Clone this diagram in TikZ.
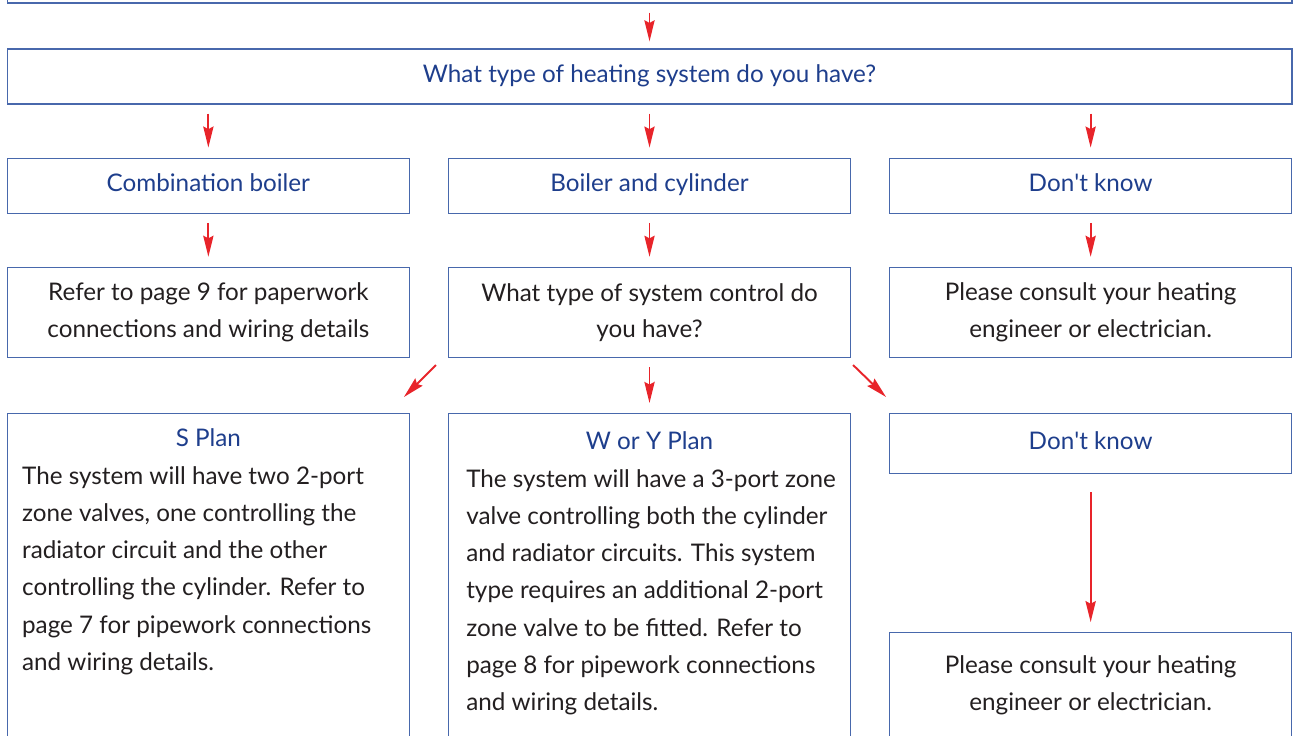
\documentclass[tikz,border=0pt]{standalone}
\usepackage{fontspec}
\setmainfont{Lato}
\usetikzlibrary{arrows.meta,positioning}
\definecolor{boxblue}{RGB}{72,104,172}
\definecolor{headblue}{RGB}{30,62,140}
\definecolor{arrowred}{RGB}{232,36,42}
\definecolor{bodygrey}{RGB}{35,31,32}

\begin{document}
\begin{tikzpicture}[x=0.02cm, y=-0.02cm, node distance=1.06cm and 0.76cm,
		main box/.style={rectangle, draw=boxblue, line width=0.7pt, minimum width=8.04cm,
			minimum height=1.1cm, inner sep=0pt, font=\fontsize{13.8}{20.7}\selectfont},
		wide box/.style={main box, minimum width=25.7cm},
		head/.style={text=headblue, text height=0.82em, text depth=0.14em},
		body/.style={text=bodygrey, align=center},
		plain text/.style={text=bodygrey, align=left, inner sep=0pt, font=\fontsize{13.8}{21.2}\selectfont},
		arr/.style={draw=arrowred, line width=1.1pt, -{Stealth[length=12pt,width=5.8pt,inset=1.5pt]}}]

		\useasboundingbox (0,0) rectangle (1293,735);
		\clip (0,0) rectangle (1293,735);

		% question rows
		\node[wide box, minimum height=2cm] (start) at (649.5,-47) {};
		\node[wide box, head] (type) at (649.5,76.5) {What type of heating system do you have?};

		\node[main box, head] (cyl) [below=of type] {Boiler and cylinder};
		\node[main box, head] (combi) [left=of cyl] {Combination boiler};
		\node[main box, head] (unsure) [right=of cyl] {Don\textquotesingle t know};

		\node[main box, body, minimum height=1.8cm] (combiref) [below=of combi]
			{Refer to page 9 for paperwork\\connections and wiring details};
		\node[main box, body, minimum height=1.8cm] (control) [below=of cyl]
			{What type of system control do\\you have?};
		\node[main box, body, minimum height=1.8cm] (unsureref) [below=of unsure]
			{Please consult your heating\\engineer or electrician.};

		% plan rows
		\node[main box, minimum height=8cm, below=1.1cm of combiref] (splan) {};
		\node[main box, minimum height=8cm, below=1.1cm of control] (wyplan) {};
		\node[main box, head, minimum height=1.2cm, below=1.1cm of unsureref] (unsure2) {Don\textquotesingle t know};
		\node[main box, body, minimum height=2.1cm, below=3.16cm of unsure2] (consult)
			{Please consult your heating\\engineer or electrician.};

		\node[head, anchor=base] (stitle) at ([yshift=-0.66cm]splan.north) {\fontsize{13.8}{16}\selectfont S Plan};
		\node[plain text, anchor=north west] (stext) at ([shift={(15,53)}]splan.north west)
			{The system will have two 2-port\\zone valves, one controlling the\\radiator circuit and the other\\
			controlling the cylinder. Refer to\\page 7 for pipework connections\\and wiring details.};
		\node[head, anchor=base] (wytitle) at ([yshift=-0.72cm]wyplan.north) {\fontsize{13.8}{16}\selectfont W or Y Plan};
		\node[plain text, anchor=north west] (wytext) at ([shift={(18,56)}]wyplan.north west)
			{The system will have a 3-port zone\\valve controlling both the cylinder\\and radiator circuits. This system\\
			type requires an additional 2-port\\zone valve to be fitted. Refer to\\page 8 for pipework connections\\and wiring details.};

		% arrows
		\draw[arr, shorten <=0.18cm, shorten >=0.14cm] (start) -- (type);
		\foreach \to in {combi, cyl, unsure}
			\draw[arr, shorten <=0.18cm, shorten >=0.2cm] (type.south -| \to) -- (\to.north);
		\foreach \from/\to in {combi/combiref, cyl/control, unsure/unsureref, control/wyplan}
			\draw[arr, shorten <=0.18cm, shorten >=0.2cm] (\from) -- (\to);
		\draw[arr, shorten <=0.36cm, shorten >=0.2cm] (unsure2) -- (consult);
		\draw[arr] ([shift={(-12,7)}]control.south west) -- ([shift={(-6,-16)}]splan.north east);
		\draw[arr] ([shift={(2,7)}]control.south east) -- ([shift={(-3,-16)}]unsure2.north west);
\end{tikzpicture}
\end{document}
